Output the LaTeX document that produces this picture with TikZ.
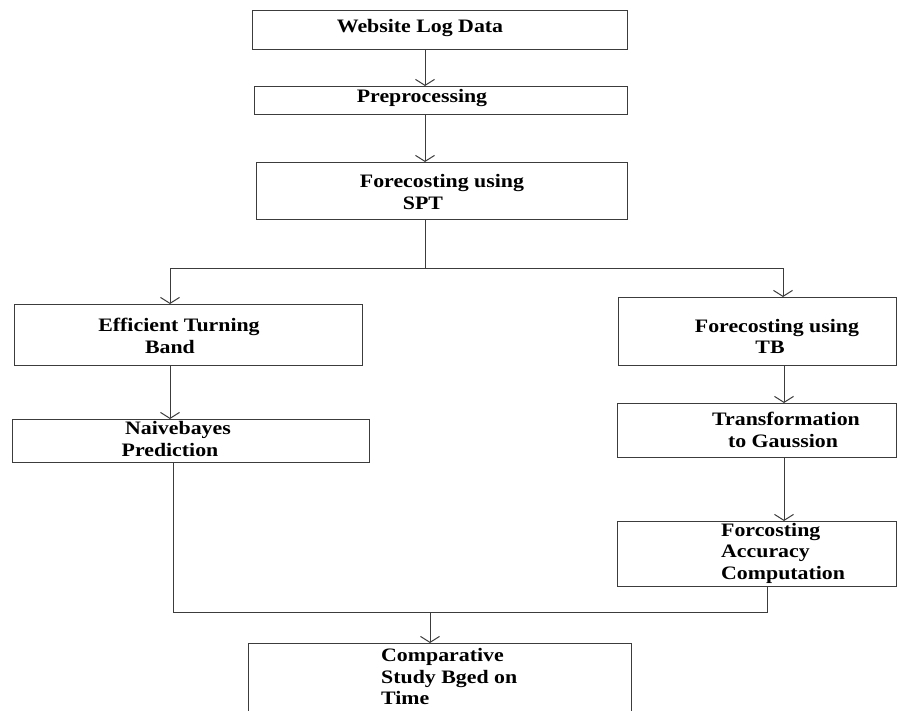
\documentclass[tikz,border=0pt]{standalone}
\usepackage{fontspec}
\setmainfont{Liberation Serif}[FakeStretch=1.15]
\usetikzlibrary{arrows.meta}
\definecolor{ln}{RGB}{60,60,60}
\tikzset{
  box/.style={draw=ln, line width=1bp, rectangle, inner sep=0pt, anchor=north west},
  lbl/.style={font=\fontsize{19bp}{22bp}\selectfont\bfseries, inner sep=0pt, anchor=base, text=black},
  lbll/.style={lbl, anchor=base west},
  con/.style={draw=ln, line width=1bp},
  arr/.style={con, -{Straight Barb[length=6bp,width=19bp,line width=1bp]}}
}
\newcommand{\bx}[5]{\node[box, minimum width=#4bp-#2bp, minimum height=#5bp-#3bp] (#1) at (#2,#3) {};}
\begin{document}
\begin{tikzpicture}[x=1bp,y=-1bp]
\clip (0,0) rectangle (899,711);
\fill[white] (0,0) rectangle (899,711);
% boxes
\node[box, minimum width=375bp, minimum height=39bp] (web) at (252,10) {};
\node[box, minimum width=373bp, minimum height=28bp] (pre) at (254,86) {};
\node[box, minimum width=371bp, minimum height=57bp] (spt) at (256,162) {};
\node[box, minimum width=348bp, minimum height=61bp] (etb) at (14,304) {};
\node[box, minimum width=278bp, minimum height=68bp] (ftb) at (618,297) {};
\node[box, minimum width=357bp, minimum height=43bp] (nb) at (12,419) {};
\node[box, minimum width=279bp, minimum height=54bp] (tg) at (617,403) {};
\node[box, minimum width=279bp, minimum height=65bp] (fac) at (617,521) {};
\node[box, minimum width=383bp, minimum height=100bp] (cmp) at (248,643) {};
% texts
\node[lbl] (t1) at (420,33) {Website Log Data};
\node[lbl] (t2) at (422,103) {Preprocessing};
\node[lbl] (t3a) at (442,187) {Forecosting using};
\node[lbl] (t3b) at (423,209) {SPT};
\node[lbl] (t4a) at (179,331) {Efficient Turning};
\node[lbl] (t4b) at (170,353) {Band};
\node[lbl] (t5a) at (777,332) {Forecosting using};
\node[lbl] (t5b) at (770,353) {TB};
\node[lbl] (t6a) at (178,434) {Naivebayes};
\node[lbl] (t6b) at (170,456) {Prediction};
\node[lbl] (t7a) at (786,425) {Transformation};
\node[lbl] (t7b) at (783,447) {to Gaussion};
\node[lbll] (t8a) at (721,536) {Forcosting};
\node[lbll] (t8b) at (721,557) {Accuracy};
\node[lbll] (t8c) at (721,579) {Computation};
\node[lbll] (t9a) at (381,661) {Comparative};
\node[lbll] (t9b) at (381,683) {Study Bged on};
\node[lbll] (t9c) at (381,704) {Time};
% columns and junctions
\coordinate (cA) at (425,0);
\coordinate (cB) at (170,0);
\coordinate (cC) at (783,0);
\coordinate (cD) at (173,0);
\coordinate (cE) at (767,0);
\coordinate (cF) at (784,0);
\coordinate (split) at (425,268);
\coordinate (merge) at (430,612);
% connectors
\draw[arr] (cA |- web.south) -- (cA |- pre.north);
\draw[arr] (cA |- pre.south) -- (cA |- spt.north);
\draw[con] (cA |- spt.south) -- (split);
\draw[arr] (split) -| (cB |- etb.north);
\draw[arr] (split) -| (cC |- ftb.north);
\draw[arr] (cB |- etb.south) -- (cB |- nb.north);
\draw[arr] (cF |- ftb.south) -- (cF |- tg.north);
\draw[arr] (cF |- tg.south) -- (cF |- fac.north);
\draw[con] (cD |- nb.south) |- (merge);
\draw[con] (cE |- fac.south) |- (merge);
\draw[arr] (merge) -- (merge |- cmp.north);
\end{tikzpicture}
\end{document}
